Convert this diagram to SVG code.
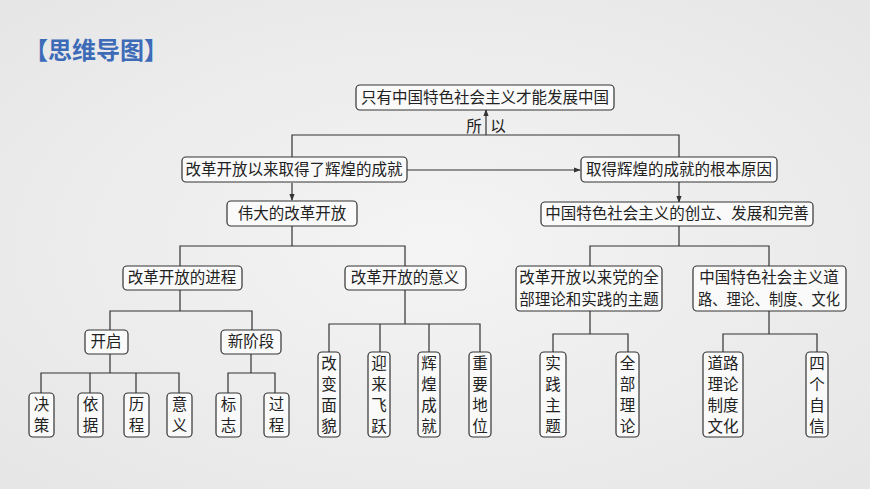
<svg xmlns="http://www.w3.org/2000/svg" width="870" height="489" viewBox="0 0 870 489">
<defs>
<radialGradient id="bg" cx="50%" cy="50%" r="70%"><stop offset="0" stop-color="#f4f4f4"/><stop offset="1" stop-color="#e6e6e6"/></radialGradient>
<marker id="ar" viewBox="0 0 8 8" refX="7" refY="4" markerWidth="6" markerHeight="6" orient="auto"><path d="M0,1 L8,4 L0,7 z" fill="#333"/></marker>
<style>
.b{fill:#fafafa;stroke:#333;stroke-width:1.2}
.t{font-family:"Noto Sans CJK SC",sans-serif;font-size:15.5px;fill:#222;text-anchor:middle}
.c path{fill:none;stroke:#333;stroke-width:1.2}
</style>
</defs>
<rect width="870" height="489" fill="url(#bg)"/>
<text x="24" y="59" font-family="Noto Sans CJK SC,sans-serif" font-size="24" font-weight="bold" fill="#3d6bb8">【思维导图】</text>
<g class="c">
<path d="M486,135 V110" marker-end="url(#ar)"/>
<path d="M292,157 V135 H679 V157"/>
<path d="M407,170 H580" marker-end="url(#ar)"/>
<path d="M292,183 V200" marker-end="url(#ar)"/>
<path d="M679,181 V202" marker-end="url(#ar)"/>
<path d="M292,226 V246 M180,266 V246 H405 V266"/>
<path d="M679,226 V246 M590,266 V246 H769 V266"/>
<path d="M180,290 V311 M110,330 V311 H252 V330"/>
<path d="M110,354 V373 M41,393 V373 H179 V393 M90,373 V393 M136,373 V393"/>
<path d="M251,354 V373 M228,393 V373 H275 V393"/>
<path d="M405,290 V324 M329,352 V324 H480 V352 M380,324 V352 M429,324 V352"/>
<path d="M590,311 V334 M553,352 V334 H628 V352"/>
<path d="M769,311 V334 M723,352 V334 H817 V352"/>
</g>
<text class="t" x="474" y="132">所</text><text class="t" x="498" y="132">以</text>
<g id="n0"><rect class="b" x="356" y="85" width="258" height="25" rx="4"/><text class="t" x="485" y="103">只有中国特色社会主义才能发展中国</text></g>
<g id="n1"><rect class="b" x="182" y="157" width="225" height="25" rx="4"/><text class="t" x="294" y="175">改革开放以来取得了辉煌的成就</text></g>
<g id="n2"><rect class="b" x="581" y="157" width="196" height="25" rx="4"/><text class="t" x="679" y="175">取得辉煌的成就的根本原因</text></g>
<g id="n3"><rect class="b" x="227" y="201" width="130" height="25" rx="4"/><text class="t" x="292" y="219">伟大的改革开放</text></g>
<g id="n4"><rect class="b" x="541" y="202" width="272" height="24" rx="4"/><text class="t" x="677" y="219">中国特色社会主义的创立、发展和完善</text></g>
<g id="n5"><rect class="b" x="123" y="266" width="119" height="24" rx="4"/><text class="t" x="182" y="283">改革开放的进程</text></g>
<g id="n6"><rect class="b" x="345" y="266" width="121" height="24" rx="4"/><text class="t" x="405" y="283">改革开放的意义</text></g>
<g id="n7"><rect class="b" x="516" y="266" width="146" height="45" rx="4"/><text class="t" x="589" y="283">改革开放以来党的全</text><text class="t" x="589" y="305">部理论和实践的主题</text></g>
<g id="n8"><rect class="b" x="693" y="266" width="153" height="45" rx="4"/><text class="t" x="769" y="283">中国特色社会主义道</text><text class="t" x="769" y="305" textLength="142" lengthAdjust="spacingAndGlyphs">路、理论、制度、文化</text></g>
<g id="n9"><rect class="b" x="85" y="330" width="43" height="24" rx="4"/><text class="t" x="106" y="347">开启</text></g>
<g id="n10"><rect class="b" x="221" y="330" width="60" height="24" rx="4"/><text class="t" x="251" y="347">新阶段</text></g>
<g id="n11"><rect class="b" x="29" y="393" width="25" height="44" rx="4"/><text class="t" x="41.5" y="410">决</text><text class="t" x="41.5" y="431">策</text></g>
<g id="n12"><rect class="b" x="78" y="393" width="25" height="44" rx="4"/><text class="t" x="90.5" y="410">依</text><text class="t" x="90.5" y="431">据</text></g>
<g id="n13"><rect class="b" x="124" y="393" width="25" height="44" rx="4"/><text class="t" x="136.5" y="410">历</text><text class="t" x="136.5" y="431">程</text></g>
<g id="n14"><rect class="b" x="167" y="393" width="25" height="44" rx="4"/><text class="t" x="179.5" y="410">意</text><text class="t" x="179.5" y="431">义</text></g>
<g id="n15"><rect class="b" x="216" y="393" width="25" height="44" rx="4"/><text class="t" x="228.5" y="410">标</text><text class="t" x="228.5" y="431">志</text></g>
<g id="n16"><rect class="b" x="264" y="393" width="25" height="44" rx="4"/><text class="t" x="276.5" y="410">过</text><text class="t" x="276.5" y="431">程</text></g>
<g id="n17"><rect class="b" x="318" y="352" width="22" height="85" rx="4"/><text class="t" x="329" y="369">改</text><text class="t" x="329" y="390">变</text><text class="t" x="329" y="411">面</text><text class="t" x="329" y="432">貌</text></g>
<g id="n18"><rect class="b" x="368" y="352" width="22" height="85" rx="4"/><text class="t" x="379" y="369">迎</text><text class="t" x="379" y="390">来</text><text class="t" x="379" y="411">飞</text><text class="t" x="379" y="432">跃</text></g>
<g id="n19"><rect class="b" x="418" y="352" width="22" height="85" rx="4"/><text class="t" x="429" y="369">辉</text><text class="t" x="429" y="390">煌</text><text class="t" x="429" y="411">成</text><text class="t" x="429" y="432">就</text></g>
<g id="n20"><rect class="b" x="469" y="352" width="22" height="85" rx="4"/><text class="t" x="480" y="369">重</text><text class="t" x="480" y="390">要</text><text class="t" x="480" y="411">地</text><text class="t" x="480" y="432">位</text></g>
<g id="n21"><rect class="b" x="540" y="352" width="26" height="85" rx="4"/><text class="t" x="553" y="369">实</text><text class="t" x="553" y="390">践</text><text class="t" x="553" y="411">主</text><text class="t" x="553" y="432">题</text></g>
<g id="n22"><rect class="b" x="616" y="352" width="23" height="85" rx="4"/><text class="t" x="627.5" y="369">全</text><text class="t" x="627.5" y="390">部</text><text class="t" x="627.5" y="411">理</text><text class="t" x="627.5" y="432">论</text></g>
<g id="n23"><rect class="b" x="703" y="352" width="40" height="85" rx="4"/><text class="t" x="723" y="369">道路</text><text class="t" x="723" y="390">理论</text><text class="t" x="723" y="411">制度</text><text class="t" x="723" y="432">文化</text></g>
<g id="n24"><rect class="b" x="806" y="352" width="22" height="85" rx="4"/><text class="t" x="817" y="369">四</text><text class="t" x="817" y="390">个</text><text class="t" x="817" y="411">自</text><text class="t" x="817" y="432">信</text></g>
</svg>
